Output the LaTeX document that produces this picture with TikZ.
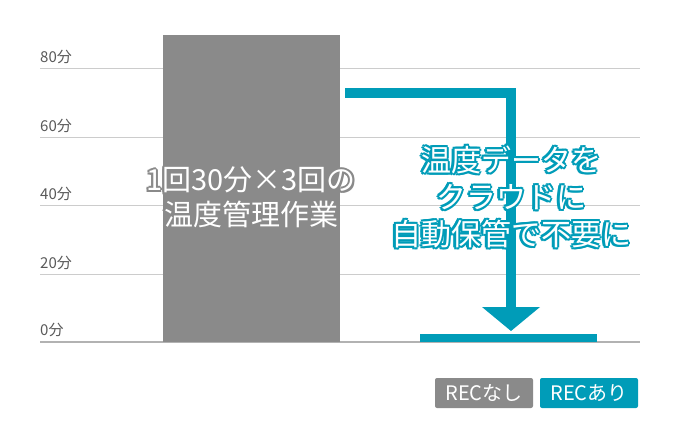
\documentclass[tikz,border=0pt]{standalone}
\usepackage{fontspec}
\setmainfont{Noto Sans CJK JP}
\begin{document}
\definecolor{teal1}{HTML}{009CB8}
\definecolor{bar}{HTML}{8A8A8A}
\definecolor{grid}{HTML}{CCCCCC}
\newcommand{\outl}[5]{% pos, name, color, size, text
  \foreach \dx/\dy in {2.2/0,-2.2/0,0/2.2,0/-2.2,1.6/1.6,-1.6/1.6,1.6/-1.6,-1.6/-1.6}
    \node[text=#3,font=\fontsize{#4}{#4}\selectfont,align=center] at ([shift={(\dx,\dy)}]#1) {#5};
  \node[text=white,font=\fontsize{#4}{#4}\selectfont,align=center] (#2) at (#1) {#5};}
\begin{tikzpicture}[x=1pt,y=-1pt,
  gl/.style={grid,line width=1},
  ax/.style={font=\fontsize{15}{15}\selectfont,text=black!65,anchor=west,inner sep=0},
  leg/.style={text=white,font=\fontsize{20}{20}\selectfont,minimum width=98,minimum height=30,inner sep=0,rounded corners=2}]
\useasboundingbox (0,0) rectangle (680,440);
\foreach \y in {68,137,205,274} \draw[gl] (40,\y) -- (640,\y);
\draw[black!30,line width=1.2] (40,342) -- (640,342);
\node[ax] (l80) at (40,57) {80分};
\node[ax] (l60) at (40,126) {60分};
\node[ax] (l40) at (40,194) {40分};
\node[ax] (l20) at (40,263) {20分};
\node[ax] (l0) at (40,330) {0分};
\fill[bar] (163,35) rectangle (340,342);
\coordinate (a0) at (345,93);
\coordinate (a1) at (511,93);
\coordinate (a2) at (511,308);
\draw[teal1,line width=10] (a0) -- (a1) -- (a2);
\fill[teal1] (482,307) -- (540,307) -- (511,331) -- cycle;
\fill[teal1] (420,334) rectangle (597,342);
\outl{251,180}{t1}{bar}{29}{1回30分×3回の}
\outl{251,214}{t2}{bar}{29}{温度管理作業}
\outl{511,160}{r1}{teal1}{30}{温度データを}
\outl{511,197}{r2}{teal1}{30}{クラウドに}
\outl{511,234}{r3}{teal1}{30}{自動保管で不要に}
\node[leg,fill=bar] (g1) at (484,393) {RECなし};
\node[leg,fill=teal1] (g2) at (589,393) {RECあり};
\end{tikzpicture}
\end{document}
